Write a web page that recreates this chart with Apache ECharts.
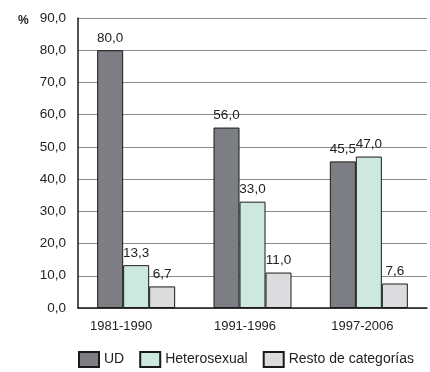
<!DOCTYPE html>
<html>
<head>
<meta charset="utf-8">
<script src="https://cdn.jsdelivr.net/npm/echarts@6/dist/echarts.min.js"></script>
<style>
  html, body { margin: 0; padding: 0; background: #fff; }
  #chart { width: 430px; height: 372px; }
</style>
</head>
<body>
<div id="chart"></div>
<script>
// Periods and share (%) of each transmission category
const periods = ['1981-1990', '1991-1996', '1997-2006'];
const udValues = [80.0, 56.0, 45.5];
const heteroValues = [13.3, 33.0, 47.0];
const restoValues = [6.7, 11.0, 7.6];
const seriesNames = ['UD', 'Heterosexual', 'Resto de categorías'];
const yTicks = { min: 0, max: 90, step: 10 };

const FONT = '"Liberation Sans", Arial, sans-serif';
const fmt = v => v.toFixed(1).replace('.', ',');

const colors = ['#7d7e83', '#cde9df', '#dcdcde'];

// period labels sit slightly left of their bar groups
const periodLabelShift = [30, 15, 13];

function barSeries(name, data, color) {
  return {
    name: name,
    type: 'bar',
    data: data,
    barWidth: 26,
    barGap: '0%',
    itemStyle: { color: color, borderColor: '#1a1a1a', borderWidth: 1 },
    label: {
      show: true,
      position: 'top',
      distance: 5,
      formatter: p => fmt(p.value),
      fontFamily: FONT,
      fontSize: 13.5,
      color: '#222'
    }
  };
}

const richPeriods = {};
periodLabelShift.forEach((s, i) => {
  richPeriods['p' + i] = { fontFamily: FONT, fontSize: 13, color: '#222', padding: [0, s, 0, 0] };
});

const chart = echarts.init(document.getElementById('chart'), null, { renderer: 'canvas' });
chart.setOption({
  animation: false,
  backgroundColor: '#fff',
  grid: { left: 78, right: 3, top: 18, bottom: 64 },
  xAxis: {
    type: 'category',
    data: periods,
    axisLine: { lineStyle: { color: '#1a1a1a', width: 1.5 } },
    axisTick: { show: false },
    axisLabel: {
      margin: 12,
      formatter: (v, i) => '{p' + i + '|' + v + '}',
      rich: richPeriods
    }
  },
  yAxis: {
    type: 'value',
    min: yTicks.min,
    max: yTicks.max,
    interval: yTicks.step,
    axisLine: { show: true, lineStyle: { color: '#1a1a1a', width: 1.5 } },
    axisTick: { show: false },
    splitLine: { lineStyle: { color: '#8a8a8a', width: 1.2 } },
    axisLabel: { fontFamily: FONT, fontSize: 13.5, color: '#222', margin: 12, formatter: v => fmt(v) }
  },
  legend: {
    left: 78,
    top: 351,
    width: 352,
    padding: 0,
    itemWidth: 20,
    itemHeight: 15,
    itemGap: 15,
    icon: 'rect',
    textStyle: { fontFamily: FONT, fontSize: 14, color: '#222' },
    data: seriesNames
  },
  graphic: [{
    type: 'text',
    left: 18,
    top: 15,
    style: { text: '%', font: 'bold 12px ' + FONT, fill: '#222' }
  }],
  series: [
    barSeries(seriesNames[0], udValues, colors[0]),
    barSeries(seriesNames[1], heteroValues, colors[1]),
    barSeries(seriesNames[2], restoValues, colors[2])
  ]
});
</script>
</body>
</html>
